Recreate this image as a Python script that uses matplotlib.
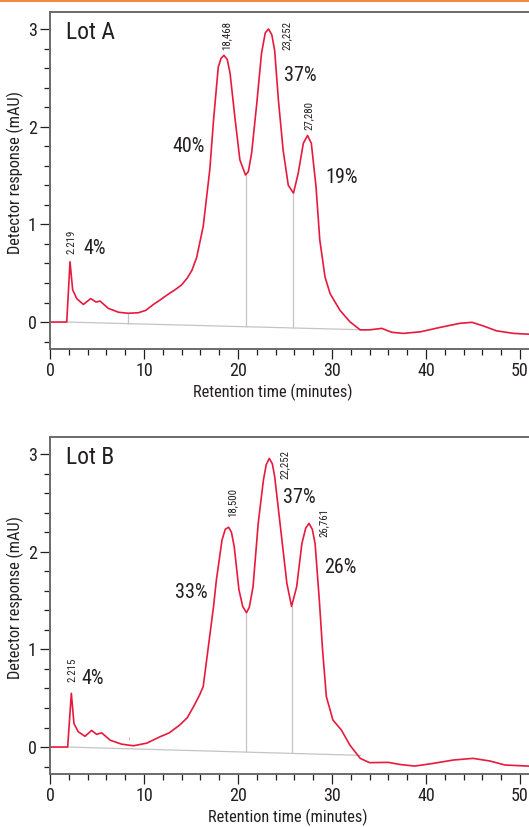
import matplotlib
matplotlib.use("Agg")
from matplotlib import pyplot as plt
from matplotlib import font_manager
from matplotlib.patches import Rectangle
from matplotlib.ticker import MultipleLocator

# Lot A trace (minutes, mAU)
time_a = [0.0, 1.78, 2.13, 2.41, 2.84, 3.55, 4.33, 4.9, 5.32, 6.2, 7.3, 8.3, 9.4, 10.2,
          11.0, 11.7, 12.5, 13.3, 14.0, 14.6, 15.1, 15.6, 16.3, 17.0, 17.4, 17.9, 18.2, 18.5, 18.85,
          19.15, 19.7, 20.2, 20.8, 21.1, 21.45, 22.0, 22.5, 22.9, 23.25, 23.6, 23.9, 24.3,
          24.8, 25.35, 25.9, 26.4, 26.95, 27.4, 27.8, 28.3, 28.7, 29.26, 29.8, 30.85, 31.9,
          33.0, 34.0, 35.3, 36.35, 37.6, 39.4, 41.5, 43.6, 44.9, 46.1, 47.5, 49.3, 52.0]
resp_a = [0.0, 0.0, 0.617, 0.33, 0.24, 0.18, 0.24, 0.205, 0.215, 0.14, 0.10, 0.09, 0.095, 0.12,
          0.18, 0.225, 0.28, 0.33, 0.38, 0.45, 0.53, 0.66, 0.98, 1.56, 2.07, 2.61, 2.70, 2.73, 2.69,
          2.55, 2.07, 1.66, 1.505, 1.54, 1.73, 2.24, 2.75, 2.96, 3.0, 2.94, 2.78, 2.27,
          1.76, 1.40, 1.32, 1.52, 1.83, 1.91, 1.83, 1.385, 0.84, 0.46, 0.29, 0.12, 0.003,
          -0.08, -0.08, -0.065, -0.105, -0.116, -0.10, -0.055, -0.013, -0.003, -0.04, -0.09, -0.116, -0.13]

# Lot B trace
time_b = [0.0, 1.88, 2.27, 2.55, 3.0, 3.72, 4.43, 4.96, 5.5, 6.4, 7.6, 8.87, 10.3, 11.7,
          12.7, 13.8, 14.6, 15.25, 15.9, 16.3, 16.85, 17.4, 17.7, 18.3, 18.65, 19.0, 19.3, 19.6, 20.1,
          20.5, 20.9, 21.2, 21.6, 22.15, 22.7, 23.0, 23.33, 23.65, 23.9, 24.47, 25.2, 25.7,
          26.24, 26.8, 27.2, 27.55, 27.9, 28.2, 28.65, 29.0, 29.4, 30.1, 31.0, 31.9, 33.0,
          34.0, 36.0, 37.2, 38.8, 40.8, 42.9, 45.0, 46.8, 48.4, 52.0]
resp_b = [0.0, 0.0, 0.55, 0.24, 0.157, 0.11, 0.17, 0.13, 0.145, 0.07, 0.03, 0.013, 0.04, 0.105,
          0.146, 0.225, 0.30, 0.41, 0.53, 0.62, 1.03, 1.44, 1.71, 2.12, 2.23, 2.25, 2.20, 2.05, 1.61,
          1.44, 1.375, 1.43, 1.64, 2.29, 2.73, 2.89, 2.955, 2.90, 2.77, 2.29, 1.675, 1.44,
          1.64, 2.085, 2.24, 2.29, 2.23, 2.085, 1.505, 0.99, 0.515, 0.276, 0.174, 0.02, -0.116,
          -0.16, -0.157, -0.178, -0.195, -0.167, -0.133, -0.116, -0.143, -0.184, -0.20]

# integration baselines and drop lines
base_a_x = [1.8, 33.5]
base_a_y = [0.0, -0.08]
drop_a_x = [8.26, 20.8, 25.9]
drop_a_lo = [-0.016, -0.048, -0.061]
drop_a_hi = [0.09, 1.505, 1.32]

base_b_x = [1.9, 33.0]
base_b_y = [0.0, -0.085]
drop_b_x = [8.45, 20.9, 25.75]
drop_b_lo = [0.075, -0.052, -0.065]
drop_b_hi = [0.10, 1.375, 1.44]

# peak labels: text, x, y (bottom of rotated text)
peaks_a = [("2.219", 2.3, 0.70), ("18,468", 18.8, 2.78), ("23,252", 25.2, 2.79), ("27,280", 27.5, 1.97)]
peaks_b = [("2.215", 2.34, 0.665), ("18,500", 19.4, 2.36), ("22,252", 24.97, 2.74), ("26,761", 29.15, 2.15)]
# area percentages: text, x, y (centre)
pct_a = [("4%", 4.8, 0.75), ("40%", 14.7, 1.80), ("37%", 26.6, 2.52), ("19%", 31.0, 1.48)]
pct_b = [("4%", 4.54, 0.70), ("33%", 15.0, 1.58), ("37%", 26.5, 2.555), ("26%", 30.85, 1.84)]

# pick a narrow sans if one is around, else a plain Arial-like one
installed = font_manager.fontManager.ttflist
names = {f.name for f in installed}
stretch = 'normal'
family = 'DejaVu Sans'
for cand in ['Liberation Sans Narrow', 'Roboto Condensed', 'Open Sans Condensed', 'Noto Sans Condensed']:
    if cand in names:
        family = cand
        break
else:
    cond = [f for f in installed if f.name == 'DejaVu Sans' and str(f.stretch) in ('condensed', '300', '75')]
    if cond:
        stretch = 'condensed'
    elif 'Roboto' in names:
        family = 'Roboto'
    elif 'Liberation Sans' in names:
        family = 'Liberation Sans'
plt.rcParams['font.family'] = [family, 'DejaVu Sans']
plt.rcParams['font.stretch'] = stretch

RED = '#e8193c'
GREY = '#c4c4c4'
INK = '#231f20'
W, H = 529, 827

fig = plt.figure(figsize=(W / 100, H / 100), dpi=100)
fig.add_artist(Rectangle((0, 1 - 1.6 / H), 1, 1.6 / H, transform=fig.transFigure,
                         color='#f08a3c', lw=0))


def draw(rect, t, r, bx, by, dx, dlo, dhi, peaks, pcts, title, xlab_x):
    ax = fig.add_axes(rect)
    ax.plot(bx, by, color=GREY, lw=0.9)
    ax.vlines(dx, dlo, dhi, color=GREY, lw=0.9)
    ax.plot(t, r, color=RED, lw=1.2)
    for txt, x, y in peaks:
        ax.text(x, y, txt, rotation=90, ha='center', va='bottom', fontsize=7.8, color=INK)
    for txt, x, y in pcts:
        ax.text(x, y, txt, ha='center', va='center', fontsize=14.5, color=INK)
    ax.text(0.033, 0.94, title, transform=ax.transAxes, ha='left', va='center',
            fontsize=17, color=INK)

    ax.set_xlim(0, 485 / 9.4)
    ax.set_ylim(-0.276, 3.174)
    ax.xaxis.set_major_locator(MultipleLocator(10))
    ax.xaxis.set_minor_locator(MultipleLocator(2))
    ax.yaxis.set_major_locator(MultipleLocator(1))
    ax.yaxis.set_minor_locator(MultipleLocator(0.2))
    ax.spines['right'].set_visible(False)
    for s in ['left', 'top', 'bottom']:
        ax.spines[s].set_color('#6a6a6a')
        ax.spines[s].set_linewidth(1.4)
    ax.tick_params(which='major', length=7, width=0.9, color=INK, labelsize=13,
                   labelcolor=INK, pad=2.5)
    ax.tick_params(which='minor', length=4.5, width=0.9, color=INK)
    ax.set_xlabel('Retention time (minutes)', fontsize=11.8, color=INK)
    ax.set_ylabel('Detector response (mAU)', fontsize=11.8, color=INK)
    ax.xaxis.set_label_coords(xlab_x, -0.103)
    ax.yaxis.set_label_coords(-0.054, 0.523)
    return ax


aw = 485 / W
ah = 337 / H
draw([50 / W, 478 / H, aw, ah], time_a, resp_a, base_a_x, base_a_y,
     drop_a_x, drop_a_lo, drop_a_hi, peaks_a, pct_a, 'Lot A', 0.459)
draw([50 / W, 53 / H, aw, ah], time_b, resp_b, base_b_x, base_b_y,
     drop_b_x, drop_b_lo, drop_b_hi, peaks_b, pct_b, 'Lot B', 0.49)

fig.savefig('out.png', dpi=100)
